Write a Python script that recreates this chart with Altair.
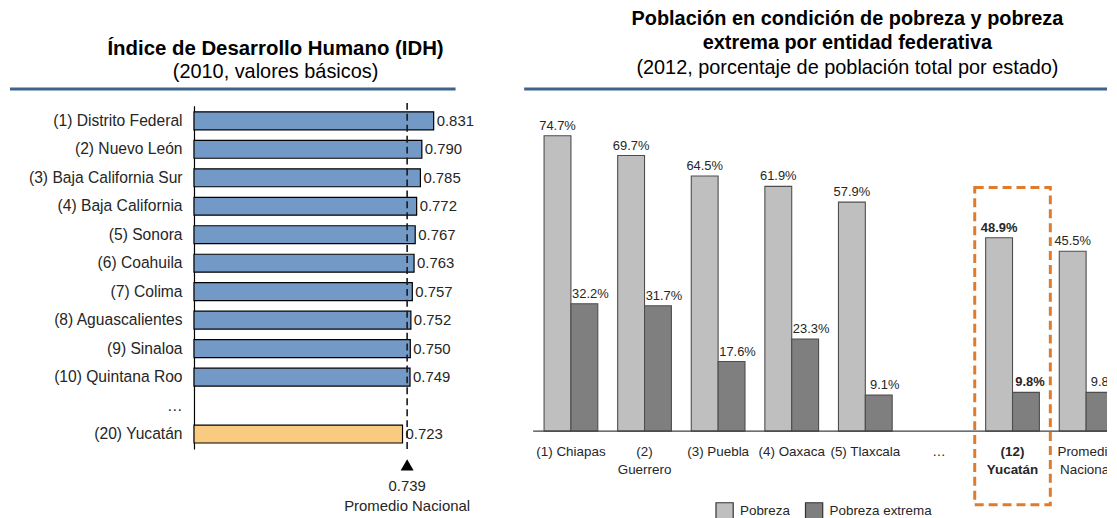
import altair as alt
import pandas as pd

FONT = "Liberation Sans"

# ---------------- data: left panel (IDH) ----------------
idh_states = [
    "(1) Distrito Federal", "(2) Nuevo León", "(3) Baja California Sur",
    "(4) Baja California", "(5) Sonora", "(6) Coahuila", "(7) Colima",
    "(8) Aguascalientes", "(9) Sinaloa", "(10) Quintana Roo", "…", "(20) Yucatán",
]
idh_values = [0.831, 0.790, 0.785, 0.772, 0.767, 0.763, 0.757, 0.752, 0.750, 0.749, None, 0.723]
idh_nacional = 0.739
idh_highlight = "(20) Yucatán"

# ---------------- data: right panel (pobreza) ----------------
pob_keys = ["Chiapas", "Guerrero", "Puebla", "Oaxaca", "Tlaxcala", "…", "Yucatán", "Nacional"]
pob_labels = ["(1) Chiapas", "(2)\nGuerrero", "(3) Puebla", "(4) Oaxaca", "(5) Tlaxcala",
              "…", "(12)\nYucatán", "Promedio\nNacional"]
pobreza = [74.7, 69.7, 64.5, 61.9, 57.9, None, 48.9, 45.5]
pobreza_extrema = [32.2, 31.7, 17.6, 23.3, 9.1, None, 9.8, 9.8]
series = ["Pobreza", "Pobreza extrema"]
pob_highlight = "Yucatán"

# ---------------- tables ----------------
df_idh = pd.DataFrame({"estado": idh_states, "valor": idh_values})
df_idh_bars = df_idh.dropna()
df_nac = pd.DataFrame({"valor": [idh_nacional],
                       "txt": [f"{idh_nacional:.3f}\nPromedio Nacional"]})

rows = []
for k, p, e in zip(pob_keys, pobreza, pobreza_extrema):
    if p is not None:
        rows.append({"key": k, "serie": series[0], "valor": p, "txt": f"{p:.1f}%"})
        rows.append({"key": k, "serie": series[1], "valor": e, "txt": f"{e:.1f}%"})
df_pob = pd.DataFrame(rows)
df_cat = pd.DataFrame({"key": pob_keys, "label": pob_labels})

# ---------------- left panel ----------------
HL, WL = 345, 290
yL = alt.Y("estado:N", sort=idh_states,
           scale=alt.Scale(domain=idh_states, paddingInner=0.37, paddingOuter=0.21),
           axis=alt.Axis(title=None, ticks=False, domainColor="#000000", domainWidth=1.2,
                         labelFontSize=15.7, labelColor="#262626", labelPadding=12,
                         labelFont=FONT, grid=False))
xL = alt.X("valor:Q", scale=alt.Scale(domain=[0, 1.0]), axis=None)

bars_L = alt.Chart(df_idh_bars).mark_bar(stroke="#000000", strokeWidth=1.2).encode(
    x=xL, y=yL,
    fill=alt.condition(f"datum.estado == '{idh_highlight}'", alt.value("#F9CB80"), alt.value("#7399C6")),
)
text_L = alt.Chart(df_idh_bars).mark_text(align="left", dx=3, fontSize=15, font=FONT,
                                           color="#262626").encode(
    x=xL, y=yL, text=alt.Text("valor:Q", format=".3f"))
nac_rule = alt.Chart(df_nac).mark_rule(strokeDash=[7, 4], strokeWidth=1.6, color="#1a1a1a").encode(
    x=xL, y=alt.value(-3), y2=alt.value(HL + 2))
nac_tri = alt.Chart(df_nac).mark_point(shape="triangle-up", filled=True, size=170,
                                        color="#000000", opacity=1).encode(
    x=xL, y=alt.value(HL + 16))
nac_txt = alt.Chart(df_nac).mark_text(baseline="top", lineBreak="\n", fontSize=15, font=FONT,
                                       lineHeight=20, color="#262626").encode(
    x=xL, y=alt.value(HL + 30), text="txt:N")

title_L1 = alt.Chart(pd.DataFrame({"t": ["Índice de Desarrollo Humano (IDH)"]})).mark_text(
    fontSize=20.5, fontWeight="bold", font=FONT, color="#000000", baseline="alphabetic").encode(
    x=alt.value(82), y=alt.value(-51), text="t:N")
title_L2 = alt.Chart(pd.DataFrame({"t": ["(2010, valores básicos)"]})).mark_text(
    fontSize=20, font=FONT, color="#000000", baseline="alphabetic").encode(
    x=alt.value(82), y=alt.value(-28), text="t:N")
line_L = alt.Chart(pd.DataFrame({"a": [0]})).mark_rule(color="#3F628E", strokeWidth=3).encode(
    x=alt.value(-185), x2=alt.value(263), y=alt.value(-17))

left = alt.layer(line_L, title_L1, title_L2, bars_L, text_L, nac_rule, nac_tri, nac_txt).properties(
    width=WL, height=HL)

# ---------------- right panel ----------------
BASE = 327           # pixel row of the zero line inside the panel
HR, WR = 414, 576    # panel reaches the page's right and bottom edge
xR = alt.X("key:N", sort=pob_keys,
           scale=alt.Scale(domain=pob_keys, range=[0, 592], paddingInner=0.27, paddingOuter=0.135),
           axis=None)
xoR = alt.XOffset("serie:N", sort=series, scale=alt.Scale(domain=series))
yR = alt.Y("valor:Q", scale=alt.Scale(domain=[-21.88, 82.25]), axis=None)

bars_R = alt.Chart(df_pob).mark_bar(stroke="#4D4D4D", strokeWidth=1.1, clip=True).encode(
    x=xR, xOffset=xoR, y=yR, y2=alt.datum(0),
    color=alt.Color("serie:N", sort=series,
                    scale=alt.Scale(domain=series, range=["#BFBFBF", "#7F7F7F"]),
                    legend=alt.Legend(orient="none", legendX=524, legendY=398,
                                      direction="horizontal", title=None,
                                      symbolType="square", symbolSize=300,
                                      symbolStrokeColor="#333333", symbolStrokeWidth=1.2,
                                      labelFontSize=13.5, labelFont=FONT, labelColor="#262626",
                                      columnPadding=12, labelOffset=6, padding=0)),
)
baseline = alt.Chart(pd.DataFrame({"valor": [0]})).mark_rule(color="#404040", strokeWidth=1.2).encode(
    x=alt.value(-1), x2=alt.value(WR), y=yR)


def val_text(serie, dx, bold):
    flt = f"datum.serie == '{serie}' && datum.key {'==' if bold else '!='} '{pob_highlight}'"
    return alt.Chart(df_pob).transform_filter(flt).mark_text(
        baseline="alphabetic", dy=-6, dx=dx, fontSize=13, font=FONT, color="#262626", clip=True,
        fontWeight="bold" if bold else "normal").encode(
        x=xR, xOffset=xoR, y=yR, text="txt:N")


vals = [val_text(series[0], 0, False), val_text(series[0], 0, True),
        val_text(series[1], 6, False), val_text(series[1], 4, True)]

cat_norm = alt.Chart(df_cat).transform_filter(f"datum.key != '{pob_highlight}'").mark_text(
    baseline="top", lineBreak="\n", fontSize=13.5, font=FONT, lineHeight=18, color="#262626",
    clip=True).encode(
    x=xR, y=alt.value(BASE + 14), text="label:N")
cat_bold = alt.Chart(df_cat).transform_filter(f"datum.key == '{pob_highlight}'").mark_text(
    baseline="top", lineBreak="\n", fontSize=13.5, font=FONT, lineHeight=18, color="#262626",
    fontWeight="bold", clip=True).encode(
    x=xR, y=alt.value(BASE + 14), text="label:N")

box = alt.Chart(pd.DataFrame({"key": [pob_highlight]})).mark_bar(
    width=76, fill="#ffffff", fillOpacity=0, stroke="#E07B2C", strokeWidth=3,
    strokeDash=[9, 5]).encode(x=xR, y=alt.value(82), y2=alt.value(401))

title_R1 = alt.Chart(pd.DataFrame({"t": ["Población en condición de pobreza y pobreza"]})).mark_text(
    fontSize=20, fontWeight="bold", font=FONT, color="#000000", baseline="alphabetic").encode(
    x=alt.value(315), y=alt.value(-81), text="t:N")
title_R2 = alt.Chart(pd.DataFrame({"t": ["extrema por entidad federativa"]})).mark_text(
    fontSize=20, fontWeight="bold", font=FONT, color="#000000", baseline="alphabetic").encode(
    x=alt.value(315), y=alt.value(-57), text="t:N")
title_R3 = alt.Chart(pd.DataFrame({"t": ["(2012, porcentaje de población total por estado)"]})).mark_text(
    fontSize=20, font=FONT, color="#000000", baseline="alphabetic").encode(
    x=alt.value(315), y=alt.value(-32), text="t:N")
line_R = alt.Chart(pd.DataFrame({"a": [0]})).mark_rule(color="#3F628E", strokeWidth=3).encode(
    x=alt.value(-10), x2=alt.value(WR), y=alt.value(-17))

right = alt.layer(line_R, title_R1, title_R2, title_R3, bars_R, baseline, *vals,
                  cat_norm, cat_bold, box).properties(width=WR, height=HR)

chart = alt.hconcat(left, right, spacing=40).properties(padding=0).configure_view(stroke=None)

chart.save("out.html", embed_options={"renderer": "svg", "actions": False})
